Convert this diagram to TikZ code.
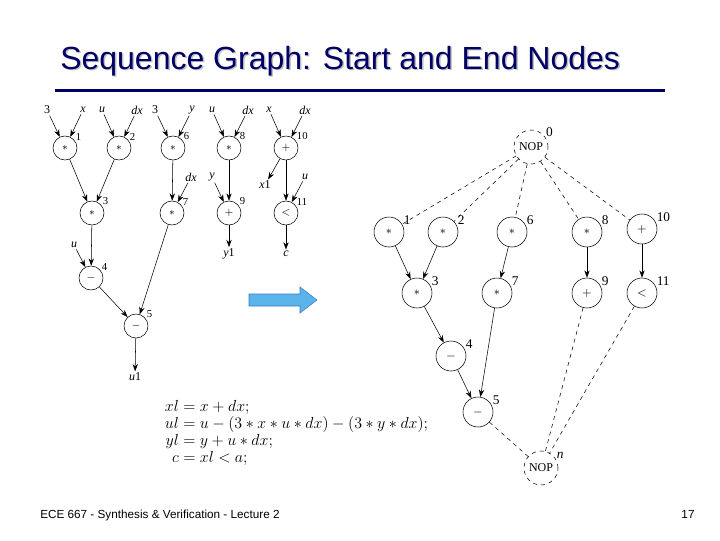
\documentclass[tikz,border=0pt]{standalone}
\usepackage{fontspec}
\setmainfont{Liberation Serif}
\newfontfamily\slidefont{Liberation Sans}
\usetikzlibrary{arrows.meta}
\definecolor{titleblue}{HTML}{000066}
\definecolor{arrowfill}{HTML}{5AB4EA}
\definecolor{arrowline}{HTML}{3A7BC8}

\begin{document}
\begin{tikzpicture}[x=0.75pt,y=-0.75pt,
  op/.style={circle,draw,thin,minimum size=18pt,inner sep=0pt,font=\footnotesize},
  bigop/.style={op,minimum size=22.5pt,font=\small},
  nop/.style={bigop,dashed,minimum size=25.5pt,font=\small},
  num/.style={font=\footnotesize,inner sep=0.5pt},
  bignum/.style={font=\normalsize,inner sep=0.5pt},
  io/.style={font=\small\itshape,inner sep=1pt},
  arr/.style={-{Stealth[length=5.5pt,width=4pt]},thin},
  dline/.style={dashed,thin}]
  \useasboundingbox (0,0) rectangle (720,540);
  % title and footer
  \node[anchor=base west,inner sep=0,font=\slidefont\fontsize{24}{28}\selectfont,text=black!25] (shadow) at (61.5,70.5) {Sequence Graph: Start and End Nodes};
  \node[anchor=base west,inner sep=0,font=\slidefont\fontsize{24}{28}\selectfont,text=titleblue] (title) at (60,69) {Sequence Graph: Start and End Nodes};
  \draw[titleblue,line width=2.25pt] (55,90) -- (665,90);
  \node[anchor=base west,inner sep=0,font=\slidefont\fontsize{8.8}{10}\selectfont] (foot) at (40,518) {ECE 667 - Synthesis \& Verification - Lecture 2};
  \node[anchor=base,inner sep=0,font=\slidefont\fontsize{8.8}{10}\selectfont] (page) at (688,518) {17};

  % sequence graph without start/end nodes
  \node[op,label={[num]35:1}] (a1) at (65,148) {$*$};
  \node[op,label={[num]35:2}] (a2) at (119,148) {$*$};
  \node[op,label={[num]35:6}] (a6) at (173,148) {$*$};
  \node[op,label={[num]35:8}] (a8) at (229,148) {$*$};
  \node[op,label={[num]35:10}] (a10) at (286,148) {$+$};
  \node[op,label={[num]35:3}] (a3) at (92,213) {$*$};
  \node[op,label={[num]35:7}] (a7) at (172,213) {$*$};
  \node[op,label={[num]35:9}] (a9) at (229,213) {$+$};
  \node[op,label={[num]35:11}] (a11) at (286,213) {$<$};
  \node[op,label={[num]35:4}] (a4) at (91,278) {$-$};
  \node[op,label={[num]35:5}] (a5) at (136,326) {$-$};

  \node[io] (i1) at (47,110) {\upshape 3};
  \node[io] (i2) at (83,110) {x};
  \node[io] (i3) at (102,110) {u};
  \node[io] (i4) at (137,110) {dx};
  \node[io] (i5) at (155,110) {\upshape 3};
  \node[io] (i6) at (192,110) {y};
  \node[io] (i7) at (212,110) {u};
  \node[io] (i8) at (248,110) {dx};
  \node[io] (i9) at (269,110) {x};
  \node[io] (i10) at (305,110) {dx};
  \node[io] (i11) at (191,177) {dx};
  \node[io] (i12) at (212,177) {y};
  \node[io] (i13) at (305,177) {u};
  \node[io] (i14) at (74,245) {u};
  \node[io] (ox) at (265,185) {x\upshape 1};
  \node[io] (oy) at (229,254) {y\upshape 1};
  \node[io] (oc) at (286,254) {c};
  \node[io] (ou) at (135,377) {u\upshape 1};

  \draw[arr] (i1) -- (a1);
  \draw[arr] (i2) -- (a1);
  \draw[arr] (i3) -- (a2);
  \draw[arr] (i4) -- (a2);
  \draw[arr] (i5) -- (a6);
  \draw[arr] (i6) -- (a6);
  \draw[arr] (i7) -- (a8);
  \draw[arr] (i8) -- (a8);
  \draw[arr] (i9) -- (a10);
  \draw[arr] (i10) -- (a10);
  \draw[arr] (i11) -- (a7);
  \draw[arr] (i12) -- (a9);
  \draw[arr] (i13) -- (a11);
  \draw[arr] (i14) -- (a4);
  \draw[arr] (a1) -- (a3);
  \draw[arr] (a2) -- (a3);
  \draw[arr] (a3) -- (a4);
  \draw[arr] (a6) -- (a7);
  \draw[arr] (a8) -- (a9);
  \draw[arr] (a10) -- (a11);
  \draw[arr] (a10) -- (ox);
  \draw[arr] (a4) -- (a5);
  \draw[arr] (a7) -- (a5);
  \draw[arr] (a9) -- (oy);
  \draw[arr] (a11) -- (oc);
  \draw[arr] (a5) -- (ou);

  % equations
  \node[anchor=west,inner sep=0] (eqs) at (158,434) {\fontsize{12}{12.75}\selectfont
    $\begin{array}{r@{\;}c@{\;}l}
      xl & = & x+dx;\\
      ul & = & u-(3*x*u*dx)-(3*y*dx);\\
      yl & = & y+u*dx;\\
      c & = & xl<a;
    \end{array}$};

  % big arrow
  \draw[arrowline,fill=arrowfill,thin] (249,294) -- (300,294) -- (300,287) -- (317,300) -- (300,313) -- (300,306) -- (249,306) -- cycle;

  % sequence graph with start and end nodes
  \node[nop,label={[bignum]35:0}] (b0) at (531,147) {NOP};
  \node[bigop,label={[bignum]25:1}] (b1) at (389,232) {$*$};
  \node[bigop,label={[bignum]25:2}] (b2) at (443,232) {$*$};
  \node[bigop,label={[bignum]25:6}] (b6) at (512,232) {$*$};
  \node[bigop,label={[bignum]25:8}] (b8) at (587,232) {$*$};
  \node[bigop,label={[bignum]25:10}] (b10) at (642,229) {$+$};
  \node[bigop,label={[bignum]25:3}] (b3) at (417,293) {$*$};
  \node[bigop,label={[bignum]25:7}] (b7) at (497,293) {$*$};
  \node[bigop,label={[bignum]25:9}] (b9) at (587,293) {$+$};
  \node[bigop,label={[bignum]25:11}] (b11) at (642,293) {$<$};
  \node[bigop,label={[bignum]25:4}] (b4) at (451,356) {$-$};
  \node[bigop,label={[bignum]25:5}] (b5) at (478,412) {$-$};
  \node[nop,label={[bignum,font=\normalsize\itshape]30:n}] (bn) at (541,468) {NOP};

  \draw[dline] (b0) -- (b1);
  \draw[dline] (b0) -- (b2);
  \draw[dline] (b0) -- (b6);
  \draw[dline] (b0) -- (b8);
  \draw[dline] (b0) -- (b10);
  \draw[arr] (b1) -- (b3);
  \draw[arr] (b2) -- (b3);
  \draw[arr] (b6) -- (b7);
  \draw[arr] (b8) -- (b9);
  \draw[arr] (b10) -- (b11);
  \draw[arr] (b3) -- (b4);
  \draw[arr] (b4) -- (b5);
  \draw[arr] (b7) -- (b5);
  \draw[dline] (b5) -- (bn);
  \draw[dline] (b9) -- (bn);
  \draw[dline] (b11) -- (bn);
\end{tikzpicture}
\end{document}
